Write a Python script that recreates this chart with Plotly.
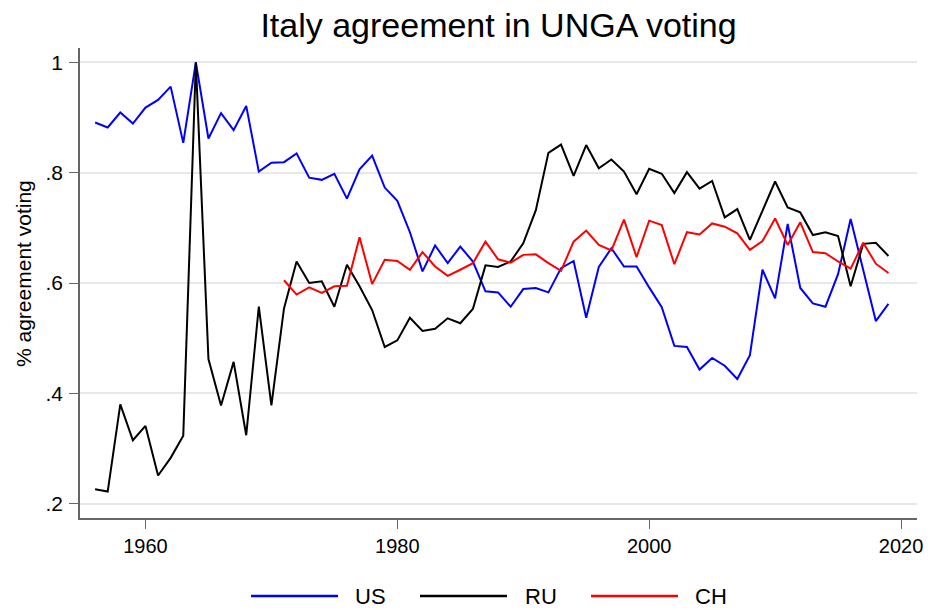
import plotly.graph_objects as go

years = list(range(1956, 2020))

us = [0.891, 0.882, 0.909, 0.889, 0.918, 0.932, 0.956, 0.854, 1.000, 0.862,
      0.908, 0.877, 0.921, 0.802, 0.818, 0.819, 0.835, 0.791, 0.787, 0.798,
      0.753, 0.806, 0.831, 0.773, 0.749, 0.692, 0.621, 0.668, 0.636, 0.666,
      0.639, 0.585, 0.583, 0.557, 0.589, 0.591, 0.583, 0.627, 0.640, 0.537,
      0.629, 0.663, 0.630, 0.630, 0.592, 0.556, 0.486, 0.484, 0.443, 0.464,
      0.450, 0.426, 0.469, 0.624, 0.572, 0.707, 0.591, 0.563, 0.557, 0.616,
      0.716, 0.626, 0.531, 0.562]

ru = [0.226, 0.222, 0.380, 0.315, 0.341, 0.251, 0.283, 0.323, 1.000, 0.462,
      0.378, 0.457, 0.324, 0.557, 0.378, 0.554, 0.639, 0.600, 0.603, 0.557,
      0.633, 0.594, 0.551, 0.484, 0.496, 0.537, 0.513, 0.517, 0.536, 0.527,
      0.553, 0.632, 0.629, 0.639, 0.672, 0.732, 0.836, 0.851, 0.794, 0.850,
      0.808, 0.824, 0.802, 0.761, 0.807, 0.798, 0.763, 0.801, 0.771, 0.785,
      0.719, 0.734, 0.678, 0.731, 0.784, 0.737, 0.728, 0.687, 0.692, 0.685,
      0.594, 0.671, 0.673, 0.649]

ch_years = list(range(1971, 2020))
ch = [0.605, 0.579, 0.592, 0.582, 0.594, 0.595, 0.683, 0.598, 0.642, 0.640,
      0.624, 0.656, 0.630, 0.613, 0.624, 0.636, 0.675, 0.643, 0.637, 0.651,
      0.652, 0.636, 0.622, 0.675, 0.695, 0.669, 0.659, 0.715, 0.647, 0.713,
      0.705, 0.634, 0.692, 0.688, 0.708, 0.702, 0.690, 0.660, 0.676, 0.717,
      0.669, 0.710, 0.656, 0.654, 0.639, 0.626, 0.673, 0.635, 0.618]

series_names = ["US", "RU", "CH"]
series_colors = ["#0000ff", "#000000", "#ff0000"]

x_ticks = [1960, 1980, 2000, 2020]
y_ticks = [0.2, 0.4, 0.6, 0.8, 1.0]
y_tick_labels = [".2", ".4", ".6", ".8", "1"]

font = "Liberation Sans, Arial, Helvetica, sans-serif"

W, H = 931, 610
ML, MR, MT, MB = 80, 14, 48, 92
PW, PH = W - ML - MR, H - MT - MB


def px_x(p):
    return (p - ML) / PW


def px_y(p):
    return (H - MB - p) / PH


fig = go.Figure()
fig.add_trace(go.Scatter(x=years, y=us, mode="lines", name=series_names[0],
                         line=dict(color=series_colors[0], width=2), showlegend=False))
fig.add_trace(go.Scatter(x=years, y=ru, mode="lines", name=series_names[1],
                         line=dict(color=series_colors[1], width=2), showlegend=False))
fig.add_trace(go.Scatter(x=ch_years, y=ch, mode="lines", name=series_names[2],
                         line=dict(color=series_colors[2], width=2), showlegend=False))

# legend drawn below the plot (long line keys as in the reference)
legend_line_x = [(251, 338), (420, 507), (591, 678)]
legend_text_x = [353, 523, 693]
legend_y = 596
shapes = []
annotations = []
for (x0, x1), tx, name, col in zip(legend_line_x, legend_text_x, series_names, series_colors):
    shapes.append(dict(type="line", xref="paper", yref="paper",
                       x0=px_x(x0), x1=px_x(x1), y0=px_y(legend_y), y1=px_y(legend_y),
                       line=dict(color=col, width=2.5)))
    annotations.append(dict(text=name, xref="paper", yref="paper", x=px_x(tx), y=px_y(legend_y),
                            xanchor="left", yanchor="middle", showarrow=False,
                            font=dict(size=22, family=font, color="black")))

annotations.append(dict(text="% agreement voting", xref="paper", yref="paper",
                        x=px_x(23), y=px_y(274), xanchor="center", yanchor="middle",
                        textangle=-90, showarrow=False,
                        font=dict(size=21, family=font, color="black")))

fig.update_layout(
    width=W, height=H,
    paper_bgcolor="white", plot_bgcolor="white",
    font=dict(family=font, color="black", size=20),
    title=dict(text="Italy agreement in UNGA voting", xref="paper", x=0.5, xanchor="center",
               yref="container", y=1 - 25 / H, yanchor="middle",
               font=dict(size=34, family=font, color="black")),
    margin=dict(l=ML, r=MR, t=MT, b=MB, autoexpand=False),
    showlegend=False,
    shapes=shapes,
    annotations=annotations,
    xaxis=dict(range=[1954.80, 2021.27], tickvals=x_ticks, showgrid=False,
               showline=True, linecolor="#666666", linewidth=1.5,
               ticks="outside", ticklen=9, tickcolor="#666666", tickwidth=1.2,
               zeroline=False, tickfont=dict(size=20)),
    yaxis=dict(range=[0.174, 1.026], tickvals=y_ticks, ticktext=y_tick_labels,
               showgrid=True, gridcolor="#e8e8e8", gridwidth=1.5,
               showline=True, linecolor="#666666", linewidth=1.5,
               ticks="outside", ticklen=9, tickcolor="#666666", tickwidth=1.2,
               ticklabelstandoff=2,
               zeroline=False, tickfont=dict(size=21)),
)

fig.write_html(
    "out.html",
    config={"displayModeBar": False},
    post_script="document.body.style.margin='0';document.body.style.padding='0';",
)
